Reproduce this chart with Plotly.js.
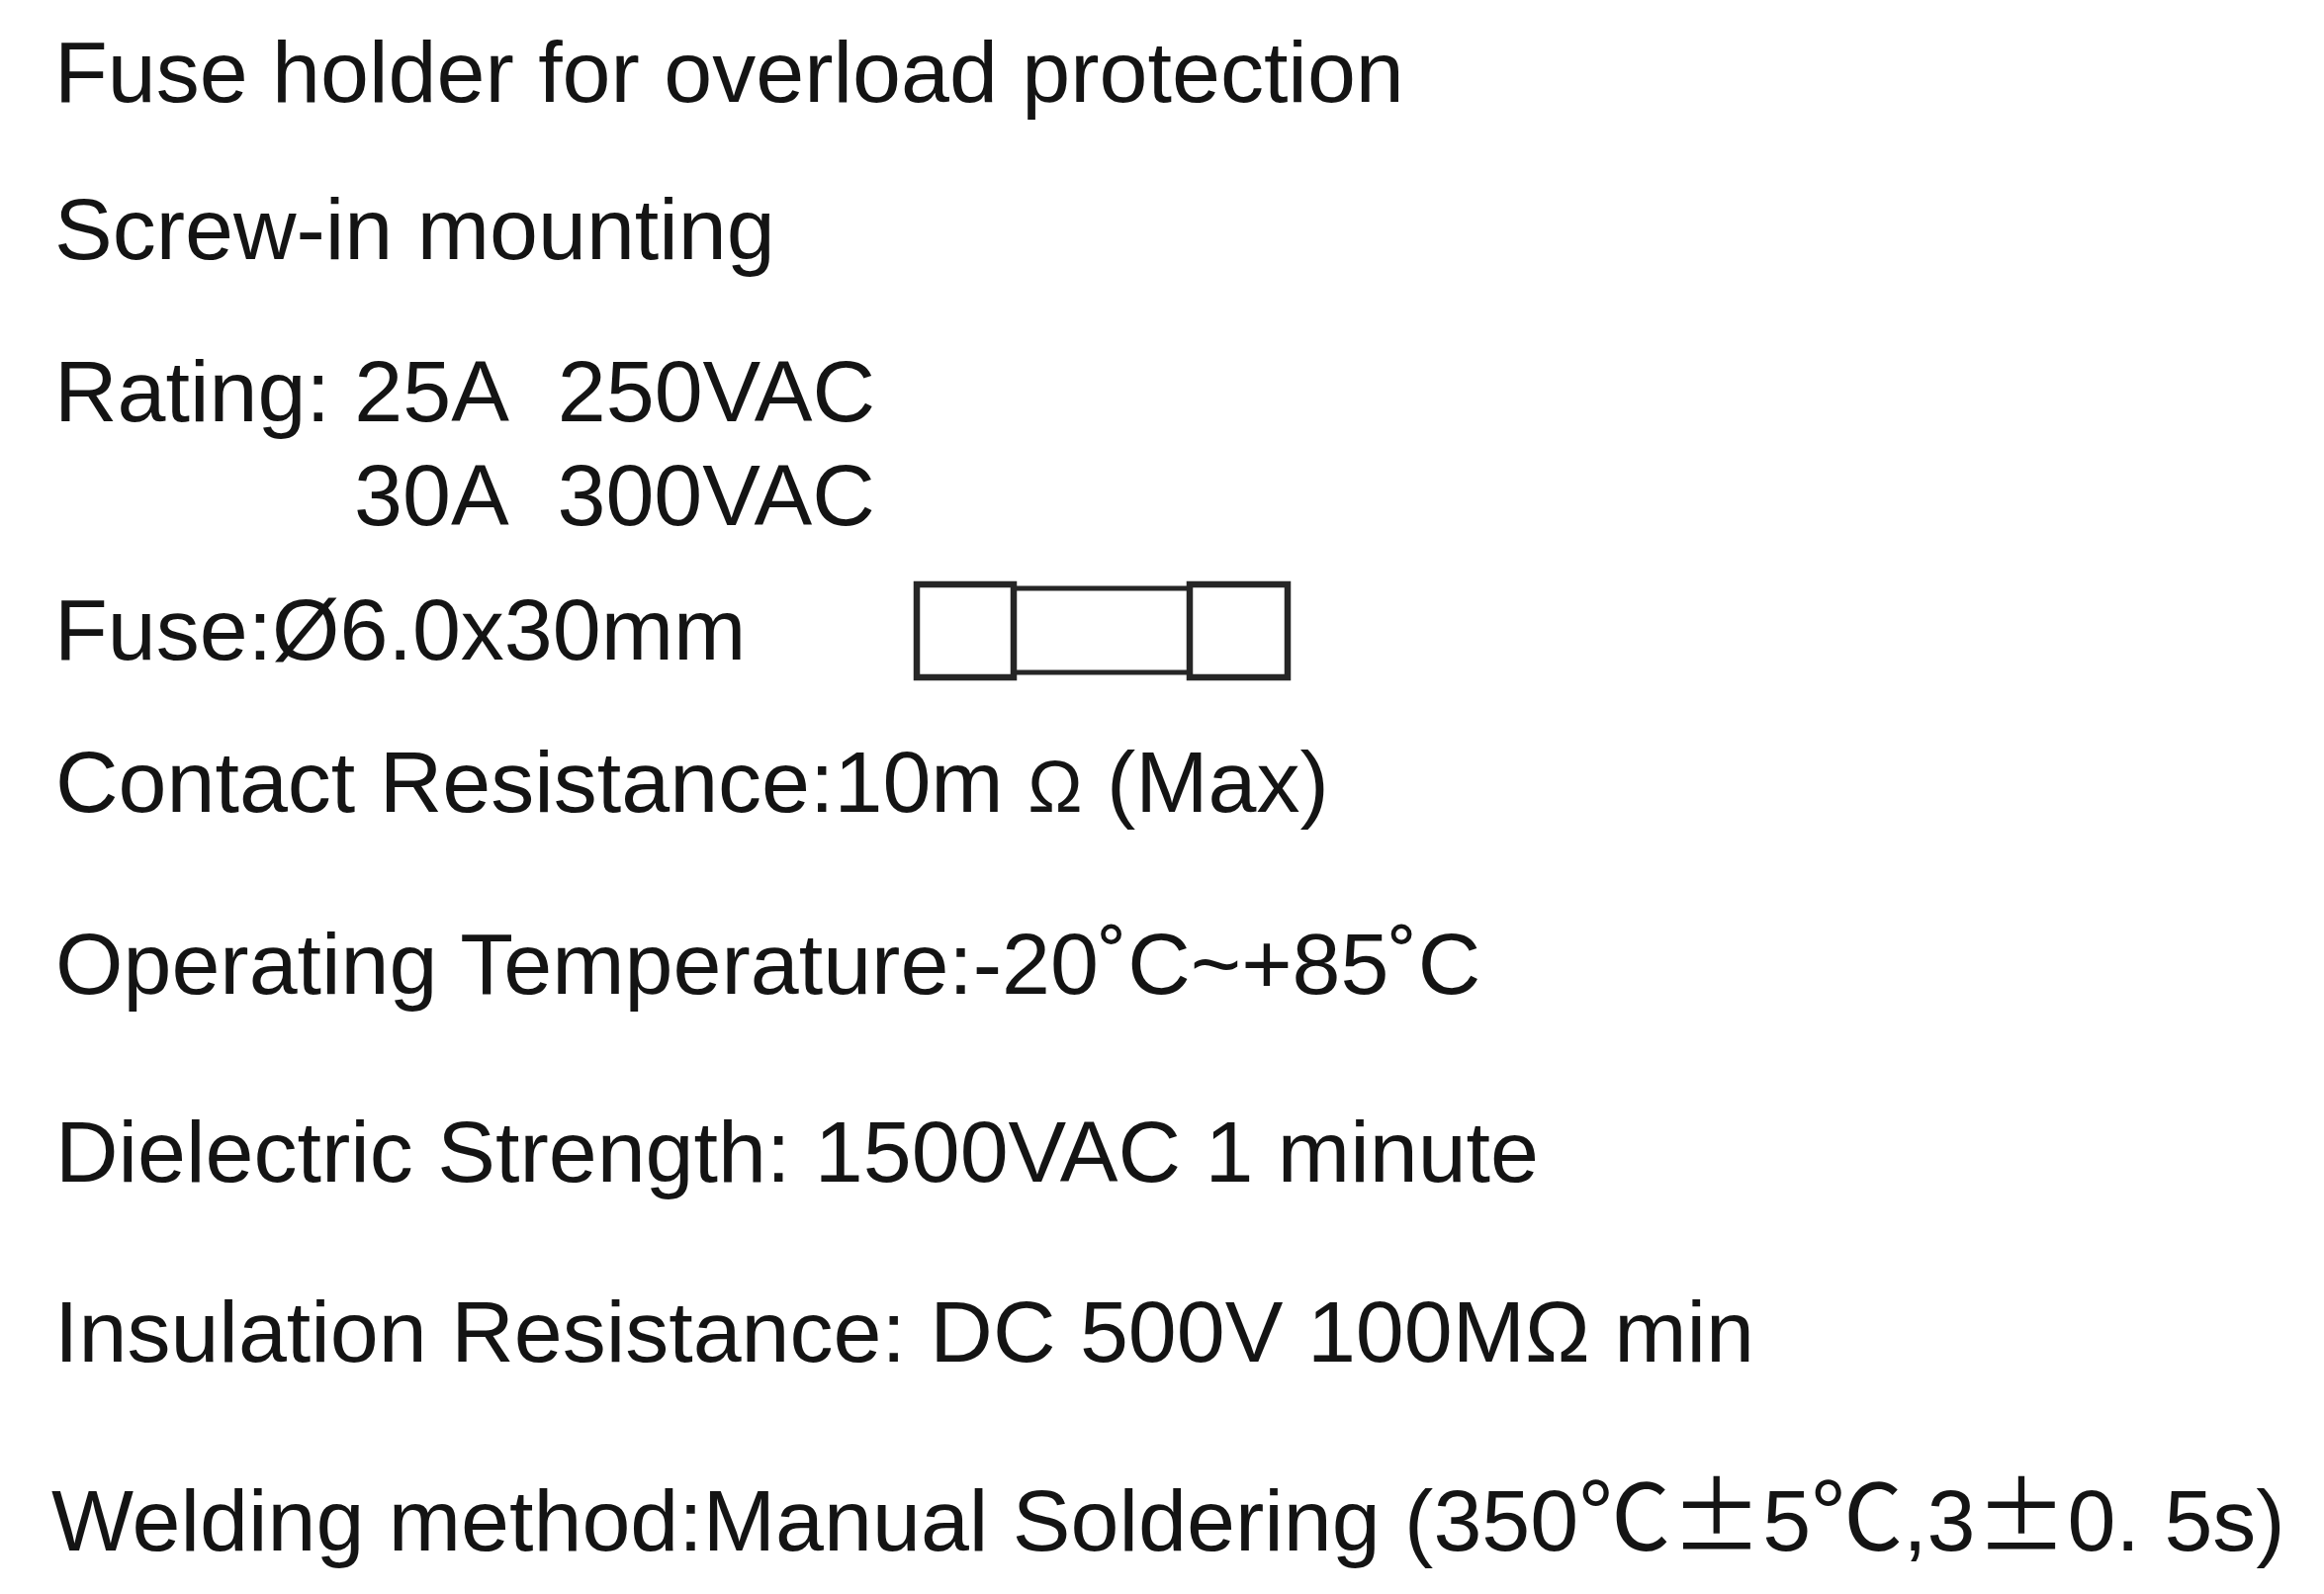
<!DOCTYPE html>
<html>
<head>
<meta charset="utf-8">
<script src="https://cdn.plot.ly/plotly-3.0.1.min.js"></script>
<style>
  html, body { margin: 0; padding: 0; background: #ffffff; }
  #chart { width: 2350px; height: 1612px; }
</style>
</head>
<body>
<div id="chart"></div>
<script>
// ---- Data: the specification lines as printed ----
const specLines = [
  "Fuse holder for overload protection",
  "Screw-in mounting",
  "Rating: 25A  250VAC",
  "30A  300VAC",
  "Fuse:Ø6.0x30mm",
  "Contact Resistance:10m Ω (Max)",
  "Operating Temperature:-20˚C~+85˚C",
  "Dielectric Strength: 1500VAC 1 minute",
  "Insulation Resistance: DC 500V 100MΩ min",
  "Welding method:Manual Soldering (350℃±5℃,3±0. 5s)"
];
// fuse drawing parts (cap, tube, cap)
const fuseParts = ["cap", "tube", "cap"];

// ---- Layout (positions / styles) ----
const W = 2350, H = 1612;
const fontSize = 88;
const textColor = "#141414";
const lineX = [53, 53, 53, 356, 53, 54, 54, 54, 53, 50];
const baselines = [102, 261, 425, 530, 666, 820, 1004, 1194, 1376, 1557];

function fmt(s) {
  let t = s.replace(/  /g, "\u00A0\u00A0");
  t = t.replace(" Ω ", " <span style=\"font-size:74px\">Ω</span> ");
  t = t.replace(/([℃±])/g, "<span style=\"font-family:'Noto Sans CJK SC';font-size:93px\">$1</span>");
  return t;
}

const annotations = specLines.map((s, i) => ({
  text: fmt(s),
  x: lineX[i],
  y: baselines[i] - 30,
  xref: "x", yref: "y",
  xanchor: "left", yanchor: "middle",
  showarrow: false,
  font: { family: "'Liberation Sans', Arial, sans-serif", size: fontSize, color: textColor }
}));

// fuse outline
const capL = { x0: 927, x1: 1025 }, capR = { x0: 1203, x1: 1302 };
const capY = { y0: 591, y1: 685 }, tubeY = { y0: 595, y1: 680 };
const stroke = "#262626";
const shapes = [];
fuseParts.forEach((p, i) => {
  if (p === "cap") {
    const c = i === 0 ? capL : capR;
    shapes.push({ type: "rect", xref: "x", yref: "y", x0: c.x0, x1: c.x1, y0: capY.y0, y1: capY.y1,
      line: { color: stroke, width: 6.5 }, fillcolor: "rgba(0,0,0,0)" });
  } else {
    shapes.push({ type: "line", xref: "x", yref: "y", x0: capL.x1, x1: capR.x0, y0: tubeY.y0, y1: tubeY.y0,
      line: { color: stroke, width: 5 } });
    shapes.push({ type: "line", xref: "x", yref: "y", x0: capL.x1, x1: capR.x0, y0: tubeY.y1, y1: tubeY.y1,
      line: { color: stroke, width: 5 } });
  }
});

const layout = {
  width: W, height: H,
  margin: { l: 0, r: 0, t: 0, b: 0 },
  paper_bgcolor: "#ffffff", plot_bgcolor: "#ffffff",
  showlegend: false,
  xaxis: { range: [0, W], visible: false, fixedrange: true },
  yaxis: { range: [H, 0], visible: false, fixedrange: true },
  annotations: annotations,
  shapes: shapes
};

Plotly.newPlot("chart", [{ x: [], y: [], type: "scatter", mode: "markers", hoverinfo: "skip" }], layout,
  { staticPlot: true, displayModeBar: false });
</script>
</body>
</html>
